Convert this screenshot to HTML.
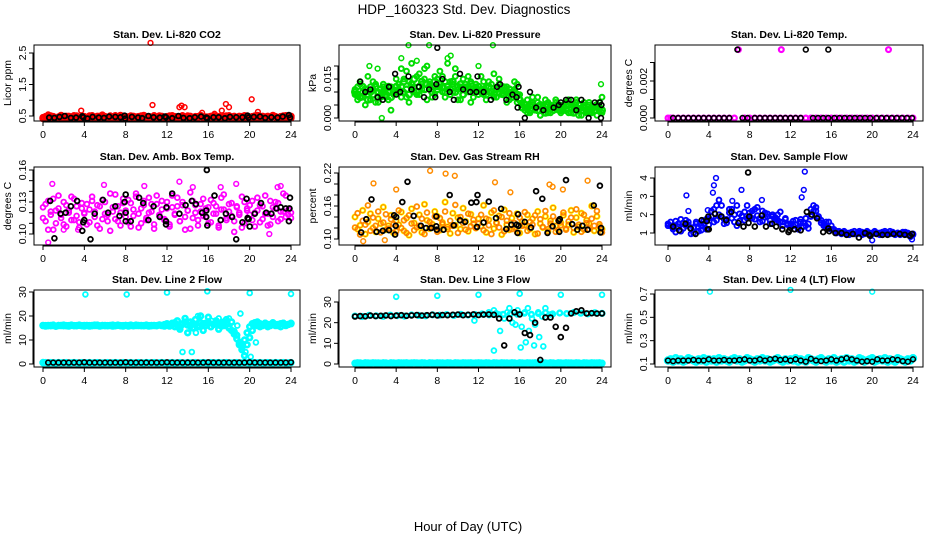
<!DOCTYPE html>
<html><head><meta charset="utf-8"><style>
html,body{margin:0;padding:0;background:#fff;}
svg{display:block;font-family:"Liberation Sans",Arial,sans-serif;}
</style></head><body>
<svg id="chart" width="936" height="540" viewBox="0 0 936 540" xmlns="http://www.w3.org/2000/svg">
<rect x="0" y="0" width="936" height="540" fill="#fff"/>
<text x="464" y="14" font-size="13.5" text-anchor="middle">HDP_160323  Std. Dev. Diagnostics</text>
<text x="468" y="531" font-size="13" text-anchor="middle">Hour of Day (UTC)</text>
</svg>
<script>
// ---------- data ----------
const hourTicks = [0,4,8,12,16,20,24];
// CO2 (values x0.01 ppm)
const co2Red = [45,48,43,50,46,41,47,52,44,49,42,46,51,45,43,48,47,44,50,46,42,49,45,53,47,43,48,45,51,44,46,49,42,47,50,45,43,48,46,52,44,47,41,49,45,50,46,43,48,45,51,47,42,46,49,44,50,45,43,48,46,52,44,47,42,49,45,50,46,43,48,45,51,44,47,42,49,46,45,50,43,48,46,52,44,47,41,49,45,50,46,43,48,45,51,47,44];
const co2Red2 = [42,47,50,44,48,45,43,51,46,44,49,47,42,50,46,45,48,43,47,51,44,46,49,42,48,45,50,43,47,46,52,44,48,45,42,49,47,44,50,46,43,48,45,51,44,47,49,42,46,50,45,48,43,47,51,44,46,49,45,42,48,50,46,44,47,43,51,45,48,46,44,50,42,47,49,45,43,48,51,46,44,47,50,42,45,49,47,43,46,52,48,44,45,50,47,43,49];
const co2RedOutH = [10.4,10.6,13.2,13.4,13.7,17.7,18,17.3,20.2,3.7,20.8,15.4,0.5,16.6];
const co2RedOutV = [282,85,78,83,78,88,78,67,103,67,63,60,55,57];
const co2BlkH = [0.6,1.1,1.6,2.1,2.7,3.2,3.8,3.9,4.3,4.8,5.4,5.9,6.4,7,7.5,7.9,7.95,8.6,9.2,9.6,10.2,10.7,11.3,11.8,11.9,12.5,13.1,13.6,14.2,14.7,15.3,15.8,15.9,16.5,17,17.6,18.1,18.7,19.3,19.8,19.9,20.4,21,21.5,22.1,22.7,23.2,23.8,23.9];
const co2BlkV = [45,44,47,50,44,45,49,46,42,47,45,44,48,47,46,51,42,47,45,43,50,46,45,48,46,43,50,44,43,46,48,45,43,46,46,43,47,46,46,51,45,47,48,44,46,45,48,53,45];
// Pressure (x0.001 kPa)
const presA = [9,12,14,8,10,16,7,11,13,6,9,12,8,10,3,11,15,13,19,10,8,14,21,12,9,17,11,15,20,13,8,16,12,18,10,14,21,9,13,16,11,7,15,12,10,14,8,13,11,16,9,12,14,10,17,8,13,11,9,12,7,10,14,6,9,5,3,7,2,6,4,8,1,5,3,6,2,4,7,3,5,4,6,2,5,3,7,1,4,6,2,5,3,4,1,6,8];
const presB = [11,7,13,10,5,9,12,14,6,10,8,13,11,7,12,9,10,11,8,15,18,6,12,10,16,9,13,19,7,14,11,9,15,12,16,8,11,14,10,19,7,12,9,13,16,6,10,12,9,11,14,7,10,13,8,11,15,9,12,6,10,8,11,13,7,6,4,2,5,8,3,6,1,4,7,2,5,3,6,4,2,3,5,7,2,4,6,3,1,5,3,6,2,4,5,3,2];
const presC = [10,9,8,12,11,7,10,9,12,8,11,10,9,12,8,10,12,10,12,14,11,9,13,15,10,12,14,11,13,12,10,14,11,13,12,10,12,11,14,10,12,13,9,11,12,13,10,11,12,10,11,9,12,10,9,11,10,12,9,10,11,8,10,9,7,4,5,4,3,5,4,3,5,4,2,5,4,3,4,5,3,4,3,5,4,2,4,5,3,4,3,2,4,3,5,4,3];
const presOutH = [5.2,7.2,13.4,23.9,9.3,4.5,1.4,2.2,6.0,9.0,12.0,2.6];
const presOutV = [28,28,28,13,24,23,20,19,22,23,20,0];
const presBlkH = [0.5,1,1.5,2.2,2.7,3.3,3.9,4,4.4,5.2,5.5,6.2,6.7,7.2,7.8,7.9,8,8.5,9.2,9.6,10.2,10.5,11.2,11.8,11.9,12.5,13.2,13.8,14.1,14.7,15.3,15.7,15.8,15.9,16.5,17,17.6,18.3,19.3,19.8,20,20.5,21,21.5,22,22.7,23.3,23.8,23.9,23.95];
const presBlkV = [14,10,11,8,7,12,17,9,10,16,11,12,8,11,8,13,27,15,10,7,17,11,10,10,16,10,7,12,13,7,9,8,4,12,0,10,4,3,4,5,6,7,7,3,7,0,6,6,0,5];
// Li-820 temp (x0.0001 C)
const tempMagH = [0,0.25,0.5,1,1.5,2,2.5,3,3.5,4,4.5,5,5.5,6,6.5,6.9,7.5,8,8.5,9,9.5,10,10.5,11,11.1,11.5,12,12.5,13,13.5,14,14.5,15,15.5,16,16.5,17,17.5,18,18.5,19,19.5,20,20.5,21,21.5,21.6,22,22.5,23,23.5,24];
const tempMagV = [0,0,0,0,0,0,0,0,0,0,0,0,0,0,0,37,0,0,0,0,0,0,0,0,37,0,0,0,0,0,0,0,0,0,0,0,0,0,0,0,0,0,0,0,0,0,37,0,0,0,0,0];
const tempBlkH = [0.5,1,1.5,2,2.5,3,3.5,4,4.5,5,5.5,6,6.8,7.3,7.8,8.5,9,9.5,10,10.5,11,11.5,12,12.5,13,13.5,14.2,14.7,15.2,15.7,15.7,16.3,16.8,17.3,17.8,18.3,18.8,19.3,19.8,20.4,20.9,21.4,21.9,22.4,22.9,23.4,23.9];
const tempBlkV = [0,0,0,0,0,0,0,0,0,0,0,0,37,0,0,0,0,0,0,0,0,0,0,0,0,37,0,0,0,0,37,0,0,0,0,0,0,0,0,0,0,0,0,0,0,0,0];
// Ambient box temp (x0.001 C)
const ambA = [125,112,131,118,104,122,136,115,109,127,120,113,133,117,106,124,119,128,111,135,121,108,126,114,130,118,103,125,137,112,120,129,116,132,107,123,138,119,110,127,115,134,121,105,128,117,131,113,124,109,136,118,126,112,130,104,122,139,115,127,108,121,133,116,125,111,129,119,106,134,123,113,128,117,102,126,120,135,110,124,118,131,107,122,127,114,136,119,109,125,130,112,121,138,116,123,120];
const ambB = [115,128,104,121,133,110,124,118,130,107,122,135,113,126,111,129,120,109,123,131,116,127,105,132,119,112,138,121,114,126,108,133,122,111,129,117,135,106,124,131,113,120,128,109,136,118,123,114,130,107,125,119,134,112,127,116,122,105,131,120,113,128,117,124,110,132,119,126,108,123,137,115,121,129,112,125,118,106,130,122,127,113,120,134,111,126,119,108,131,116,124,129,114,121,136,118,115];
const ambOutH = [0.9,0.5,13.2,18.7,5.9,9.8,14.5,22.7,23.0,2.0,3.4,17.2,21.9];
const ambOutV = [147,92,149,147,146,145,144,144,145,104,104,144,100];
const ambBlkH = [0.7,1.1,1.7,2.2,2.7,3.3,3.8,3.9,4,4.6,5,5.8,6.3,7,7.4,7.9,8,8,8,8.5,9.3,9.7,10.2,10.7,11.3,11.9,11.9,11.95,12.5,13.2,13.8,14.4,14.8,15.4,15.8,15.8,15.9,15.85,16.6,17.2,17.7,18.3,18.7,19.3,19.7,19.8,19.9,20,20.5,21.1,21.6,22.1,22.6,23,23.5,23.8,23.85,23.9];
const ambBlkV = [131,96,119,120,126,131,103,111,113,95,119,132,120,126,117,130,137,112,120,112,134,129,113,126,116,112,109,125,138,119,127,131,128,120,116,122,108,160,136,113,119,116,95,111,133,115,114,107,119,129,120,119,124,125,124,112,124,134];
// Gas stream RH (x0.001 percent)
const rhA = [140,118,125,152,109,131,146,120,113,137,128,158,117,124,143,111,133,126,149,115,138,107,155,129,121,144,112,163,134,119,127,150,141,116,130,167,122,110,147,125,139,118,156,132,114,145,128,120,137,123,161,112,135,148,119,129,142,108,153,126,117,138,121,146,111,132,125,144,118,137,109,150,128,121,141,114,133,157,124,116,130,143,119,126,152,112,139,122,147,117,134,128,160,115,141,123,118];
const rhB = [121,147,108,133,126,161,115,139,124,150,112,130,145,119,136,127,114,152,120,134,111,143,128,116,159,124,137,109,148,131,122,141,113,138,127,150,118,133,124,162,111,140,129,117,146,123,135,120,128,144,116,137,125,109,152,130,121,140,114,133,147,118,129,112,139,124,149,115,131,126,143,110,136,122,151,118,128,141,113,134,125,148,117,132,139,120,154,126,113,144,129,118,137,124,151,127,112];
const rhOutH = [1.8,7.3,8.8,9.7,13.6,22.6,2.9,0.8,4.0,19.2,20.2,15.1,18.9];
const rhOutV = [201,224,219,215,203,206,98,96,190,195,190,185,199];
const rhBlkH = [0.6,1.1,1.6,2.1,2.7,3.3,3.8,3.9,3.95,4,4.6,5.1,5.7,6.4,6.9,7.4,7.9,7.9,7.95,8.6,9.2,9.6,10.2,10.7,11.3,11.8,11.85,11.9,12.5,13,13.7,14.2,14.7,15.2,15.7,15.8,15.85,15.9,16.5,17.1,17.6,18.2,18.7,19.2,19.8,19.85,19.9,20.5,21.1,21.6,22.1,22.6,23.2,23.8,23.85,23.9];
const rhBlkV = [112,136,172,113,115,116,143,108,124,140,167,204,142,124,120,120,141,123,117,117,180,125,134,131,166,167,122,180,130,168,138,155,118,126,126,111,145,124,131,121,187,173,111,123,133,113,136,207,127,117,124,117,161,197,112,120];
// Sample flow (x0.01 ml/min)
const flowA = [150,140,120,165,135,110,155,170,145,125,100,160,130,115,150,175,180,220,160,250,280,190,150,175,210,230,160,140,205,195,170,250,210,180,230,195,160,220,185,205,170,190,175,200,160,140,180,150,130,165,145,120,175,155,140,125,230,250,220,190,170,150,135,160,140,120,110,105,100,110,95,100,105,95,100,110,90,100,105,100,95,110,100,90,105,100,95,110,100,95,100,90,105,95,100,85,95];
const flowB = [140,160,130,105,150,175,125,140,160,95,130,150,110,140,165,120,145,190,230,170,200,250,175,155,230,180,200,250,165,190,215,180,190,220,175,240,180,165,210,190,150,200,185,170,215,160,175,145,150,140,170,130,160,135,180,150,190,220,240,180,155,140,160,125,120,115,100,110,95,105,100,90,100,110,95,100,105,95,110,90,100,105,95,100,90,110,100,95,105,90,100,95,100,105,90,80,90];
const flowOutH = [1.8,4.5,4.7,4.4,7.2,9.2,13.3,13.4,13.1,20,23.9,6.3,2.0,3.9];
const flowOutV = [305,360,400,320,335,280,335,435,295,60,65,275,220,225];
const flowBlkH = [0.5,1.1,1.7,2.2,2.7,3.3,3.8,3.9,3.95,4,4.6,5.2,5.7,6.2,6.9,7.4,7.9,7.95,7.85,8.5,9.2,9.6,10.2,10.6,11.2,11.8,11.9,12.4,13,13.6,14.1,14.6,15.2,15.7,15.8,16.4,17,17.5,18.1,18.7,19.3,19.7,19.8,20.4,21,21.5,22.1,22.7,23.2,23.7,23.9];
const flowBlkV = [135,115,150,125,95,170,165,120,190,120,205,190,170,215,155,135,155,190,430,135,195,135,150,135,120,105,115,120,115,215,200,180,105,125,110,100,100,90,95,75,100,90,85,95,90,90,95,95,90,85,95];
// Line 2 flow (ml/min)
const l2Cyan = [16.0,15.8,16.1,15.9,16.2,15.7,16.0,16.1,15.9,16.0,15.8,16.2,16.0,15.9,16.1,16.0,15.8,16.1,16.0,15.9,16.2,16.0,15.8,16.1,15.9,16.0,16.1,15.8,16.0,16.2,15.9,16.0,16.1,15.8,16.0,15.9,16.2,16.0,16.1,15.9,16.0,15.8,16.1,16.0,15.9,16.2,16.0,15.8,16.1,16.3,17.0,15.5,18.0,14.5,16.5,19.0,13.0,17.5,15.0,18.5,16.0,20.0,14.0,17.0,19.5,15.5,16.5,18.0,14.5,17.0,16.0,18.5,15.0,17.5,13.5,12.0,9.0,6.0,3.5,8.0,11.0,14.0,16.5,17.5,15.5,16.0,17.0,15.5,16.5,17.0,16.0,16.5,15.5,17.0,16.0,16.5,17.0];
const l2Cyan2 = [16.1,16.0,15.9,16.1,16.0,15.8,16.1,16.0,16.2,15.9,16.0,16.1,15.9,16.0,16.2,15.9,16.1,16.0,15.8,16.1,16.0,16.2,15.9,16.0,16.1,15.9,16.0,16.2,15.9,16.1,16.0,15.8,16.1,16.0,16.2,15.9,16.0,16.1,15.9,16.0,16.2,16.0,15.9,16.1,16.0,16.3,16.1,16.4,16.8,15.8,16.5,17.2,16.0,15.5,16.8,17.5,16.2,15.8,17.0,16.5,15.5,17.2,16.8,16.0,17.5,15.5,16.5,17.0,16.2,15.8,17.5,16.5,15.5,14.0,12.5,10.5,8.0,7.0,10.0,13.0,15.5,16.8,17.2,16.0,16.8,16.2,17.0,16.5,16.0,17.2,16.5,16.0,16.8,17.0,16.2,16.5,16.8];
const l2OutH = [13.5,14.4,19.3,19.6,20.1,19.1,20.6,15.0,16.3,17.0,18.0,4.1,8.1,12,15.9,20,24,0,14.8,18.8];
const l2OutV = [5,5,7.5,5,3,21,9,20,18,19,19,29,29,29.8,30.3,29.6,29.2,0.8,13,16];
const l2Zero = [0.5,0.6,0.4,0.6,0.5,0.4,0.6,0.5,0.5,0.6,0.4,0.5,0.6,0.5,0.4,0.6,0.5,0.5,0.6,0.4,0.5,0.6,0.5,0.4,0.5,0.6,0.4,0.5,0.6,0.5,0.4,0.6,0.5,0.5,0.6,0.4,0.5,0.6,0.5,0.4,0.6,0.5,0.5,0.6,0.4,0.5,0.6,0.5,0.4,0.5,0.6,0.4,0.5,0.6,0.5,0.4,0.6,0.5,0.5,0.6,0.4,0.5,0.6,0.5,0.4,0.6,0.5,0.5,0.6,0.4,0.5,0.6,0.5,0.4,0.5,0.6,0.4,0.5,0.6,0.5,0.4,0.6,0.5,0.5,0.6,0.4,0.5,0.6,0.5,0.4,0.6,0.5,0.5,0.6,0.4,0.5,0.6];
const l2BlkH = [0.5,1,1.5,2,2.5,3,3.5,4,4.5,5,5.5,6,6.5,7,7.5,8,8.5,9,9.5,10,10.5,11,11.5,12,12.5,13,13.5,14,14.5,15,15.5,16,16.5,17,17.5,18,18.5,19,19.5,20,20.5,21,21.5,22,22.5,23,23.5,24];
const l2BlkV = [0.6,0.6,0.6,0.6,0.6,0.6,0.6,0.7,0.6,0.6,0.6,0.6,0.6,0.6,0.6,0.7,0.6,0.6,0.6,0.6,0.6,0.6,0.6,0.7,0.6,0.6,0.6,0.6,0.6,0.6,0.6,0.7,0.6,0.6,0.6,0.6,0.6,0.6,0.6,0.7,0.6,0.6,0.6,0.6,0.6,0.6,0.6,0.7];
// Line 3 flow (ml/min)
const l3Blk = [23,23.2,23.1,23.4,23.2,23.3,23.5,23.2,23.4,23.6,23.3,23.5,23.7,23.4,23.6,23.8,23.5,23.7,23.6,23.8,23.9,23.6,23.8,24,23.7,23.9,24,23.8,22,9,22,25,24,15,14,20,2,22.5,22.5,18,13,17.5,24.5,25.5,26,24.5,24.6,24.4,24.5];
const l3CyanBand = [23.2,23.0,23.5,23.3,23.1,23.6,23.4,23.2,23.7,23.5,23.3,23.8,23.6,23.9,23.5,24.0,23.7,23.9,24.2,23.8,24.4,24.0,24.3,24.1,24.6,24.0,24.5,24.8,24.2,24.7,24.4,24.9,24.6,24.3,24.8,24.5];
const l3CyanOutH = [13,13.5,14,14.5,15,15.3,15.8,16.2,16.5,16.8,17.2,17.5,17.8,18.2,18.5,19,12.5,14.8,13.5,14.1,16.1,16.6,17.4,17.9,18.3,16.9,15.6,4,8,12,16,20,24,11.6];
const l3CyanOutV = [25,26,24,22,27,20,26,18,25,27,22,19,25,23,27,24,24,25,6.5,16,8,10.5,9,13,8.5,16,19,32.5,33,33.5,34,33.5,33.5,21];
const l3Zero = [0.4,0.6,0.5,0.3,0.6,0.5,0.4,0.6,0.5,0.5,0.4,0.6,0.5,0.3,0.6,0.5,0.4,0.6,0.5,0.5,0.6,0.4,0.5,0.6,0.5,0.4,0.6,0.5,0.3,0.6,0.5,0.4,0.6,0.5,0.5,0.4,0.6,0.5,0.3,0.6,0.5,0.4,0.6,0.5,0.5,0.6,0.4,0.5,0.6,0.5,0.4,0.6,0.5,0.3,0.6,0.5,0.4,0.6,0.5,0.5,0.4,0.6,0.5,0.3,0.6,0.5,0.4,0.6,0.5,0.5,0.6,0.4,0.5,0.6,0.5,0.4,0.6,0.5,0.3,0.6,0.5,0.4,0.6,0.5,0.5,0.4,0.6,0.5,0.3,0.6,0.5,0.4,0.6,0.5,0.5,0.6,0.4];
// Line 4 flow (x0.01 ml/min)
const l4Cyan = [13,14,12,15,13,14,12,13,15,14,13,12,14,13,15,12,14,13,14,12,15,13,14,13,12,14,15,13,14,12,13,15,14,13,12,14,13,15,13,14,12,13,14,15,13,12,14,13,14,13,15,12,14,13,12,15,14,13,12,14,15,13,12,14,13,15,12,13,14,12,15,13,14,12,13,15,14,12,13,14,15,12,13,14,13,15,12,14,13,12,15,14,13,12,14,13,15];
const l4OutH = [4.1,12,20];
const l4OutV = [72,73.5,72];
const l4Blk = [13,12.5,13,13,13,13.5,13,13,14,13,13,13.5,13,13,13.5,14,13,13,14,13,14,14.5,13.5,14,13,14,13,12,14.5,13,12.5,13,14,13,14,15,14,13,12,12.5,12,14,13,13,14,13.5,12.5,12,14];

// ---------- drawing ----------
const NS = 'http://www.w3.org/2000/svg';
const svg = document.getElementById('chart');
function mk(tag, attrs, parent){ const e=document.createElementNS(NS,tag); for(const k in attrs) e.setAttribute(k,attrs[k]); (parent||svg).appendChild(e); return e; }
function linScale(v1,p1,v2,p2){ return v => p1 + (v - v1) * (p2 - p1) / (v2 - v1); }
function evenHours(n){ const a=[]; for(let i=0;i<n;i++) a.push(i*24/(n-1)); return a; }

function panel(cfg){
  const g = mk('g',{});
  
  
  const [bx0,by0,bx1,by1] = cfg.box;
  const xs = linScale(0,cfg.x0,24,cfg.x24);
  const ys = linScale(cfg.ymap[0],cfg.ymap[1],cfg.ymap[2],cfg.ymap[3]);
  cfg.series.forEach(s => {
    const sg = mk('g',{fill:'none',stroke:s.color,'stroke-width':s.sw||1.5},g);
    
    
    const hs = s.h || evenHours(s.v.length);
    for(let i=0;i<s.v.length;i++){
      const c = mk('circle',{cx:xs(hs[i]).toFixed(1),cy:ys(s.v[i]*(s.k||1)).toFixed(1),r:s.r||2.4},sg);
      
      
    }
  });
  const box = mk('rect',{x:bx0,y:by0,width:bx1-bx0,height:by1-by0,fill:'none',stroke:'#000','stroke-width':1},g);
  
  
  const t = mk('text',{x:(bx0+bx1)/2,y:by0-7,'font-size':10.5,'font-weight':'bold','text-anchor':'middle'},g);
  t.textContent = cfg.title;
  
  
  const xa = mk('g',{stroke:'#000','stroke-width':1},g);
  
  
  mk('line',{x1:xs(0),x2:xs(24),y1:by1+1,y2:by1+1},xa);
  hourTicks.forEach(h=>{
    mk('line',{x1:xs(h),x2:xs(h),y1:by1,y2:by1+5},xa);
    const tl = mk('text',{x:xs(h),y:by1+17,'font-size':10.5,'text-anchor':'middle',stroke:'none',fill:'#000'},g);
    tl.textContent = h;
    
    
  });
  const ya = mk('g',{stroke:'#000','stroke-width':1},g);
  
  
  const yt = cfg.yticks;
  mk('line',{x1:bx0-1,x2:bx0-1,y1:ys(yt[0]),y2:ys(yt[yt.length-1])},ya);
  yt.forEach(v=> mk('line',{x1:bx0-5,x2:bx0,y1:ys(v),y2:ys(v)},ya));
  cfg.ylabels.forEach((lab,i)=>{
    const y = ys(cfg.ylabelVals[i]);
    const tl = mk('text',{x:0,y:0,transform:`translate(${bx0-8},${y}) rotate(-90)`,'font-size':10.5,'text-anchor':'middle'},g);
    tl.textContent = lab;
    
    
  });
  const yl = mk('text',{x:0,y:0,transform:`translate(${bx0-23},${(by0+by1)/2}) rotate(-90)`,'font-size':10.5,'text-anchor':'middle'},g);
  yl.textContent = cfg.ylab;
  
  
}

const C1=[34,300,43,291], C2=[339,611,355,602], C3=[655,923,668,913];
const R1=[45,121], R2=[167,245], R3=[290,367];
const RED='#ff0000', GRN='#00dd00', MAG='#ff00ff', ORG='#ff8c00', YEL='#ffff00', BLU='#0000ff', CYN='#00ffff', BLK='#000';

panel({name:'panel-co2',box:[C1[0],R1[0],C1[1],R1[1]],x0:C1[2],x24:C1[3],ymap:[0.5,116,2.5,53],
  yticks:[0.5,1,1.5,2,2.5],ylabels:['0.5','1.5','2.5'],ylabelVals:[0.5,1.5,2.5],title:'Stan. Dev. Li-820 CO2',ylab:'Licor ppm',
  series:[{name:'co2-red',v:co2Red,k:0.01,color:RED,sw:2.6},{name:'co2-red-2',v:co2Red2,k:0.01,color:RED,sw:2.6},{name:'co2-red-outliers',h:co2RedOutH,v:co2RedOutV,k:0.01,color:RED},{name:'co2-black',h:co2BlkH,v:co2BlkV,k:0.01,color:BLK,sw:1.8}]});
panel({name:'panel-pressure',box:[C2[0],R1[0],C2[1],R1[1]],x0:C2[2],x24:C2[3],ymap:[0,118,0.015,79],
  yticks:[0,0.005,0.01,0.015,0.02],ylabels:['0.000','0.015'],ylabelVals:[0,0.015],title:'Stan. Dev. Li-820 Pressure',ylab:'kPa',
  series:[{name:'pressure-green-a',v:presA,k:0.001,color:GRN,sw:2},{name:'pressure-green-b',v:presB,k:0.001,color:GRN,sw:2},{name:'pressure-green-c',v:presC,k:0.001,color:GRN,sw:2.4,r:2.8},{name:'pressure-green-outliers',h:presOutH,v:presOutV,k:0.001,color:GRN},{name:'pressure-black',h:presBlkH,v:presBlkV,k:0.001,color:BLK,sw:1.6}]});
panel({name:'panel-li820-temp',box:[C3[0],R1[0],C3[1],R1[1]],x0:C3[2],x24:C3[3],ymap:[0,118,0.002,81],
  yticks:[0,0.001,0.002,0.003],ylabels:['0.000','0.002'],ylabelVals:[0,0.002],title:'Stan. Dev. Li-820 Temp.',ylab:'degrees C',
  series:[{name:'temp-magenta',h:tempMagH,v:tempMagV,k:0.0001,color:MAG,sw:2.2},{name:'temp-black',h:tempBlkH,v:tempBlkV,k:0.0001,color:BLK,sw:1.6}]});
panel({name:'panel-amb-box-temp',box:[C1[0],R2[0],C1[1],R2[1]],x0:C1[2],x24:C1[3],ymap:[0.10,234,0.16,170],
  yticks:[0.10,0.11,0.12,0.13,0.14,0.15,0.16],ylabels:['0.10','0.13','0.16'],ylabelVals:[0.10,0.13,0.16],title:'Stan. Dev. Amb. Box Temp.',ylab:'degrees C',
  series:[{name:'amb-magenta-a',v:ambA,k:0.001,color:MAG,sw:1.8},{name:'amb-magenta-b',v:ambB,k:0.001,color:MAG,sw:1.8},{name:'amb-magenta-outliers',h:ambOutH,v:ambOutV,k:0.001,color:MAG},{name:'amb-black',h:ambBlkH,v:ambBlkV,k:0.001,color:BLK,sw:1.8}]});
panel({name:'panel-gas-stream-rh',box:[C2[0],R2[0],C2[1],R2[1]],x0:C2[2],x24:C2[3],ymap:[0.10,239,0.22,173],
  yticks:[0.10,0.12,0.14,0.16,0.18,0.20,0.22],ylabels:['0.10','0.16','0.22'],ylabelVals:[0.10,0.16,0.22],title:'Stan. Dev. Gas Stream RH',ylab:'percent',
  series:[{name:'rh-yellow-a',v:rhA,k:0.001,color:YEL,sw:2.4},{name:'rh-orange-b',v:rhB,k:0.001,color:ORG,sw:1.8},{name:'rh-orange-a',v:rhA,k:0.001,color:'#ff6a00',sw:0.9},{name:'rh-outliers',h:rhOutH,v:rhOutV,k:0.001,color:ORG},{name:'rh-black',h:rhBlkH,v:rhBlkV,k:0.001,color:BLK,sw:1.8}]});
panel({name:'panel-sample-flow',box:[C3[0],R2[0],C3[1],R2[1]],x0:C3[2],x24:C3[3],ymap:[1,233,4,178],
  yticks:[1,2,3,4],ylabels:['1','2','3','4'],ylabelVals:[1,2,3,4],title:'Stan. Dev. Sample Flow',ylab:'ml/min',
  series:[{name:'flow-blue-a',v:flowA,k:0.01,color:BLU,sw:1.9},{name:'flow-blue-b',v:flowB,k:0.01,color:BLU,sw:1.9},{name:'flow-blue-outliers',h:flowOutH,v:flowOutV,k:0.01,color:BLU},{name:'flow-black',h:flowBlkH,v:flowBlkV,k:0.01,color:BLK,sw:1.8}]});
panel({name:'panel-line2-flow',box:[C1[0],R3[0],C1[1],R3[1]],x0:C1[2],x24:C1[3],ymap:[0,364,30,292],
  yticks:[0,10,20,30],ylabels:['0','10','20','30'],ylabelVals:[0,10,20,30],title:'Stan. Dev. Line 2 Flow',ylab:'ml/min',
  series:[{name:'line2-cyan',v:l2Cyan,color:CYN,sw:2.6},{name:'line2-cyan-2',v:l2Cyan2,color:CYN,sw:2.6},{name:'line2-cyan-outliers',h:l2OutH,v:l2OutV,color:CYN,sw:1.8},{name:'line2-cyan-zero',v:l2Zero,color:CYN,sw:2.6},{name:'line2-black',h:l2BlkH,v:l2BlkV,color:BLK,sw:1.6}]});
panel({name:'panel-line3-flow',box:[C2[0],R3[0],C2[1],R3[1]],x0:C2[2],x24:C2[3],ymap:[0,364,30,302],
  yticks:[0,10,20,30],ylabels:['0','10','20','30'],ylabelVals:[0,10,20,30],title:'Stan. Dev. Line 3 Flow',ylab:'ml/min',
  series:[{name:'line3-cyan-band',v:l3CyanBand,color:CYN,sw:2.4},{name:'line3-cyan-outliers',h:l3CyanOutH,v:l3CyanOutV,color:CYN,sw:1.8},{name:'line3-cyan-zero',v:l3Zero,color:CYN,sw:2.6},{name:'line3-black',v:l3Blk,color:BLK,sw:1.8}]});
panel({name:'panel-line4-flow',box:[C3[0],R3[0],C3[1],R3[1]],x0:C3[2],x24:C3[3],ymap:[0.1,364,0.7,294],
  yticks:[0.1,0.3,0.5,0.7],ylabels:['0.1','0.3','0.5','0.7'],ylabelVals:[0.1,0.3,0.5,0.7],title:'Stan. Dev. Line 4 (LT) Flow',ylab:'ml/min',
  series:[{name:'line4-cyan',v:l4Cyan,k:0.01,color:CYN,sw:2.8,r:2.8},{name:'line4-cyan-outliers',h:l4OutH,v:l4OutV,k:0.01,color:CYN},{name:'line4-black',v:l4Blk,k:0.01,color:BLK,sw:1.5}]});
</script>
</body></html>
